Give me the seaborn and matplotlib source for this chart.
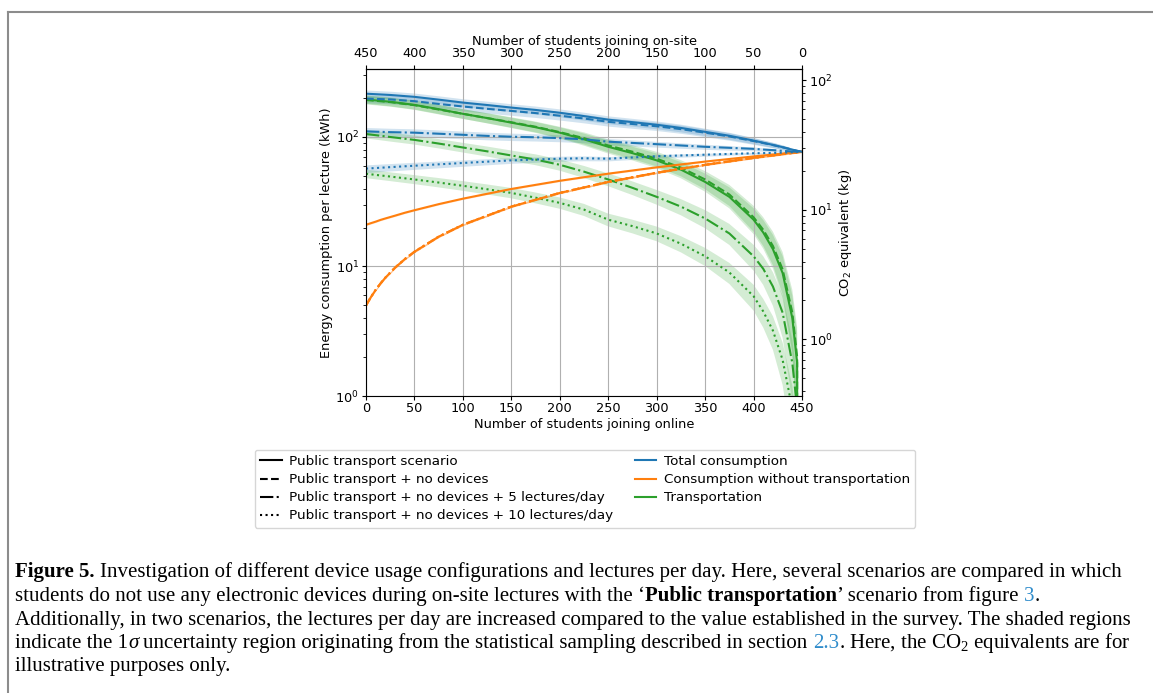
import numpy as np
import pandas as pd
import matplotlib
matplotlib.use('Agg')
import matplotlib.pyplot as plt
from matplotlib.lines import Line2D
import seaborn as sns

# number of students joining online (x axis)
online = [0, 25, 50, 75, 100, 125, 150, 175, 200, 225, 250, 275, 300,
          325, 350, 375, 400, 410, 420, 430, 440, 445, 450]
# finer grid for the consumption without transportation
online_nt = [0, 5, 10, 15, 20, 30, 40, 50, 75, 100, 150, 200, 250, 300, 350, 400, 450]

# consumption without transportation (kWh per lecture)
nontrans_pt = [21.0, 21.6, 22.2, 22.9, 23.5, 24.7, 26.0, 27.2, 30.3, 33.4, 39.7, 45.9,
               52.1, 58.3, 64.6, 70.8, 77.0]
nontrans_nd = [5.0, 5.8, 6.6, 7.4, 8.2, 9.8, 11.4, 13.0, 17.0, 21.0, 29.0, 37.0,
               45.0, 53.0, 61.0, 69.0, 77.0]

# transportation
trans_pt = [195, 187, 177, 164, 151, 140, 129, 119, 108, 96, 84, 75,
            66, 56, 45, 34.5, 23, 18.3, 13.6, 8.9, 4.0, 1.8, 0]
trans_nd = [193, 186, 176, 163, 151, 140, 130, 120, 109, 98, 86, 77,
            68, 58, 47, 36, 24, 19.2, 14.4, 9.5, 4.4, 2.0, 0]
trans_5 = [105.5, 100, 95, 89, 83, 77.5, 72, 67, 61, 54, 47, 40.5,
           34.5, 29, 23.5, 18, 12, 9.6, 7.0, 4.4, 1.8, 0.8, 0]
trans_10 = [52, 49.5, 47, 44.5, 42, 39.5, 37, 34, 31, 27.5, 23, 20.5,
            18, 15, 12, 9, 5.9, 4.5, 3.2, 1.9, 0.8, 0.35, 0]

# total consumption
total_pt = [216.0, 211.1, 204.2, 194.3, 184.4, 176.6, 168.7, 161.8, 153.9, 145.0, 136.1, 130.2,
            124.3, 117.5, 109.6, 102.2, 93.8, 90.3, 86.9, 83.4, 79.8, 78.2, 77.0]
total_nd = [198, 195, 189, 180, 172, 165, 159, 153, 146, 139, 131, 126,
            121, 115, 108, 101, 93, 89.8, 86.6, 83.3, 79.8, 78.2, 77]
total_5 = [110.5, 109, 108, 106, 104, 102, 100.5, 99.5, 98, 96, 92, 90,
           88, 86, 84, 82.5, 81, 80, 79.2, 78.2, 77.2, 77, 77]
total_10 = [57, 58.5, 60, 61.5, 63, 64.5, 66, 67, 68, 68.5, 68, 69.5,
            71, 72, 73, 74, 74.9, 75.1, 75.4, 75.7, 76.2, 76.5, 77]

# relative 1 sigma of the transportation part
trans_rel_err = [0.075, 0.078, 0.08, 0.083, 0.086, 0.089, 0.092, 0.096, 0.10, 0.107, 0.113, 0.121,
                 0.13, 0.143, 0.16, 0.185, 0.226, 0.25, 0.29, 0.36, 0.5, 0.7, 0.9]
nontrans_rel_err = 0.015
kg_per_kwh = 0.366

scen = ['Public transport scenario',
        'Public transport + no devices',
        'Public transport + no devices + 5 lectures/day',
        'Public transport + no devices + 10 lectures/day']
quant = ['Total consumption', 'Consumption without transportation', 'Transportation']
colors = {'Total consumption': '#1f77b4',
          'Consumption without transportation': '#ff7f0e',
          'Transportation': '#2ca02c'}

series = [
    (quant[0], scen[0], online, total_pt, trans_pt),
    (quant[0], scen[1], online, total_nd, trans_nd),
    (quant[0], scen[2], online, total_5, trans_5),
    (quant[0], scen[3], online, total_10, trans_10),
    (quant[1], scen[0], online_nt, nontrans_pt, None),
    (quant[1], scen[1], online_nt, nontrans_nd, None),
    (quant[1], scen[2], online_nt, nontrans_nd, None),
    (quant[1], scen[3], online_nt, nontrans_nd, None),
    (quant[2], scen[0], online, trans_pt, trans_pt),
    (quant[2], scen[1], online, trans_nd, trans_nd),
    (quant[2], scen[2], online, trans_5, trans_5),
    (quant[2], scen[3], online, trans_10, trans_10),
]

df = pd.concat([pd.DataFrame({'online': xs, 'energy': vals, 'quantity': q, 'scenario': s})
                for q, s, xs, vals, _ in series], ignore_index=True)

W, H = 1153, 693
FS = 9.3
fig = plt.figure(figsize=(W / 100, H / 100), dpi=100)
plt.rcParams['mathtext.rm'] = 'Liberation Serif'
plt.rcParams['mathtext.it'] = 'Liberation Serif:italic'
plt.rcParams['mathtext.bf'] = 'Liberation Serif:bold'

ax = fig.add_axes([366 / W, 1 - 396 / H, (802 - 366) / W, (396 - 69) / H])

# shaded 1 sigma bands
rel = np.array(trans_rel_err)
for q, s, xs, vals, tr in series:
    v = np.array(vals, dtype=float)
    if tr is None:
        err = v * nontrans_rel_err
    else:
        err = np.array(tr, dtype=float) * rel
    ax.fill_between(xs, np.maximum(v - err, 1e-3), v + err, color=colors[q], alpha=0.2, lw=0)

sns.lineplot(data=df, x='online', y='energy', hue='quantity', style='scenario',
             hue_order=[quant[2], quant[1], quant[0]], style_order=scen, palette=colors,
             dashes={scen[0]: '', scen[1]: (3.7, 1.6), scen[2]: (6.4, 1.6, 1.0, 1.6),
                     scen[3]: (1.0, 1.65)},
             estimator=None, lw=1.5, legend=False, ax=ax)

ax.set_yscale('log')
ax.set_xlim(0, 450)
ax.set_ylim(1, 335)
ax.set_xticks(np.arange(0, 451, 50))
ax.grid(True, which='major', color='#b0b0b0', lw=0.8)
ax.tick_params(labelsize=FS, length=3, pad=2)
ax.tick_params(axis='x', pad=1.5)
ax.tick_params(which='minor', length=2)
ax.set_xlabel('Number of students joining online', fontsize=FS, labelpad=2)
ax.set_ylabel('Energy consumption per lecture (kWh)', fontsize=FS, labelpad=1.5)

top = ax.secondary_xaxis('top', functions=(lambda v: 450 - v, lambda v: 450 - v))
top.set_xticks(np.arange(0, 451, 50))
top.tick_params(labelsize=FS, length=3, pad=3.5)
top.set_xlabel('Number of students joining on-site', fontsize=FS, labelpad=1.5)

right = ax.secondary_yaxis('right', functions=(lambda v: v * kg_per_kwh, lambda v: v / kg_per_kwh))
right.tick_params(labelsize=FS, length=3, pad=2)
right.tick_params(which='minor', length=2)
right.set_ylabel('CO$_2$ equivalent (kg)', fontsize=FS, labelpad=3)

# legend below the axes
handles = [Line2D([], [], color='k', lw=1.5, ls=ls) for ls in ['-', '--', '-.', ':']]
handles += [Line2D([], [], color=colors[q], lw=1.5) for q in quant]
handles += [Line2D([], [], color='none')]
fig.legend(handles, scen + quant + [''], ncol=2, fontsize=9.7, loc='upper center',
           bbox_to_anchor=(585 / W, 1 - 443 / H), columnspacing=1.6,
           handlelength=1.6, handletextpad=0.55, labelspacing=0.38)

# page frame
fig.add_artist(Line2D([8 / W, 1], [1 - 12 / H, 1 - 12 / H], transform=fig.transFigure,
                      color='#8c8c8c', lw=1.5))
fig.add_artist(Line2D([8 / W, 8 / W], [0, 1 - 12 / H], transform=fig.transFigure,
                      color='#8c8c8c', lw=1.5))

# caption
link = '#2f8ccb'
caption = [
    (577, [('Figure 5.', {'weight': 'bold'}),
           (' Investigation of different device usage configurations and lectures per day. '
            'Here, several scenarios are compared in which', {})]),
    (601, [('students do not use any electronic devices during on-site lectures with the \u2018', {}),
           ('Public transportation', {'weight': 'bold'}),
           ('\u2019 scenario from figure ', {}), ('3', {'color': link}), ('.', {})]),
    (625, [('Additionally, in two scenarios, the lectures per day are increased compared to the '
            'value established in the survey. The shaded regions', {})]),
    (648, [('indicate the 1', {}), ('\u03c3', {'style': 'italic'}),
           (' uncertainty region originating from the statistical sampling described in section ', {}),
           ('2.3', {'color': link}), ('. Here, the CO$_2$ equivalents are for', {'math_fontfamily': 'custom'})]),
    (671, [('illustrative purposes only.', {})]),
]

renderer = fig.canvas.get_renderer()
probe = fig.text(0.5, 0.5, caption[2][1][0][0], family='Liberation Serif', fontsize=14)
cap_size = 14 * (1132 - 15) / probe.get_window_extent(renderer).width
probe.remove()
space = 0.25 * cap_size * 100 / 72

for y, pieces in caption:
    xpos = 15
    for s, kw in pieces:
        lead = len(s) - len(s.lstrip(' '))
        trail = len(s) - len(s.rstrip(' '))
        xpos += lead * space
        t = fig.text(xpos / W, 1 - y / H, s.strip(' '), family='Liberation Serif',
                     fontsize=cap_size, va='baseline', ha='left', **kw)
        xpos = t.get_window_extent(renderer).x1 + trail * space

fig.savefig('out.png', dpi=100)
